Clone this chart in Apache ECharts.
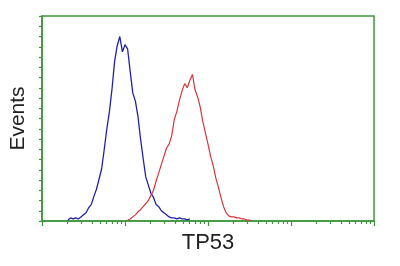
<!DOCTYPE html>
<html>
<head>
<meta charset="utf-8">
<script src="https://cdn.jsdelivr.net/npm/echarts@6/dist/echarts.min.js"></script>
<style>
html,body{margin:0;padding:0;background:#fff;}
#c{width:400px;height:266px;}
</style>
</head>
<body>
<div id="c"></div>
<script>
// Histogram bins: channel numbers (1024 channels = 4 log decades)
const channels = [72,80,88,96,104,112,120,128,136,144,152,160,168,176,184,192,200,208,216,224,232,240,248,256,264,272,280,288,296,304,312,320,328,336,344,352,360,368,376,384,392,400,408,416,424,432,440,448,456,464,472,480,488,496,504,512,520,528,536,544,552,560,568,576,584,592,600,608,616,624,632,640,648];
// Control (isotype) - blue
const blueCounts = [null,1,3,2,3,2,4,6,8,13,16,24,31,41,51,70,90,107,129,156,171,180,165,172,168,146,125,117,102,80,61,43,35,27,23,16,14,10,8,6,4,3,3,2,3,2,2,1,2,null,null,null,null,null,null,null,null,null,null,null,null,null,null,null,null,null,null,null,null,null,null,null,null];
// TP53 - red
const redCounts = [null,null,null,null,null,null,null,null,null,null,null,null,null,null,null,null,null,null,null,null,null,null,null,null,1,2,4,6,9,11,14,17,20,25,30,39,47,55,63,71,75,83,99,107,118,127,134,130,137,143,128,121,111,97,86,75,63,54,42,33,23,14,8,5,4,4,3,3,2,2,1,1,0];
const majorTicks = [0,256,512,768,1024];
const xName = 'TP53';
const yName = 'Events';

const green = '#3d963d';
const minorTicks = [];
for (let d = 0; d < 4; d++) {
  for (let k = 2; k <= 9; k++) minorTicks.push(256 * (d + Math.log10(k)));
}
const blueData = channels.map((c, i) => [c, blueCounts[i]]);
const redData = channels.map((c, i) => [c, redCounts[i]]);

const chart = echarts.init(document.getElementById('c'), null, {renderer: 'canvas'});
chart.setOption({
  animation: false,
  backgroundColor: '#fff',
  grid: {left: 41, right: 26, top: 16, bottom: 45, show: true, borderColor: green, borderWidth: 1.5, backgroundColor: 'transparent'},
  xAxis: [{
    type: 'value', min: 0, max: 1024, position: 'bottom',
    name: xName, nameLocation: 'middle', nameGap: 11,
    nameTextStyle: {fontFamily: 'Liberation Sans, Arial', fontSize: 22, color: '#222'},
    axisLine: {show: true, lineStyle: {color: green, width: 1.5}},
    axisTick: {show: true, customValues: majorTicks, length: 5, lineStyle: {color: green, width: 1.2}},
    axisLabel: {show: false}, splitLine: {show: false}
  }, {
    type: 'value', min: 0, max: 1024, position: 'bottom', offset: 0,
    axisLine: {show: false},
    axisTick: {show: true, customValues: minorTicks, length: 3, lineStyle: {color: green, width: 1.2}},
    axisLabel: {show: false}, splitLine: {show: false}
  }],
  yAxis: {
    type: 'value', min: 0, max: 200, interval: 10,
    name: yName, nameLocation: 'middle', nameGap: 13, nameRotate: 90,
    nameTextStyle: {fontFamily: 'Liberation Sans, Arial', fontSize: 21, color: '#222'},
    axisLine: {show: true, lineStyle: {color: green, width: 1.5}},
    axisTick: {show: true, length: 3, lineStyle: {color: green, width: 1.2}},
    axisLabel: {show: false}, splitLine: {show: false}
  },
  series: [{
    type: 'line', data: blueData, xAxisIndex: 0, showSymbol: false, connectNulls: false,
    lineStyle: {color: '#1f22a8', width: 1.3}
  }, {
    type: 'line', data: redData, xAxisIndex: 0, showSymbol: false, connectNulls: false,
    lineStyle: {color: '#d8343a', width: 1.2}
  }]
});
</script>
</body>
</html>
